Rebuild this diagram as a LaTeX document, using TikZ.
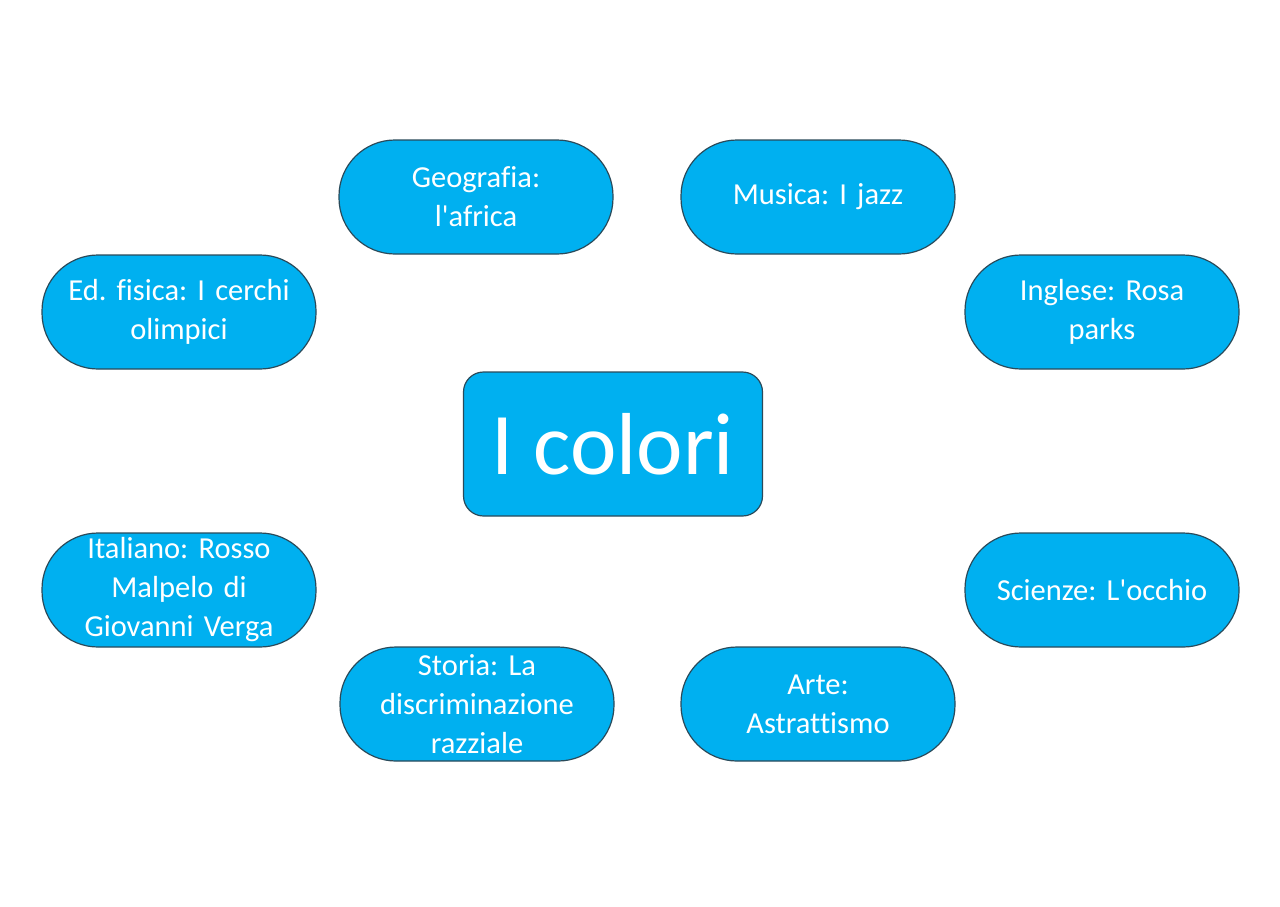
\documentclass[tikz,border=0pt]{standalone}
\usepackage{fontspec}
\setmainfont{Carlito}[Ligatures={NoCommon,TeXOff}]
\definecolor{boxblue}{HTML}{00B0F0}
\definecolor{boxline}{HTML}{2A4A5A}
\frenchspacing
\begin{document}
\begin{tikzpicture}[x=1pt,y=-1pt,
  pill/.style={draw=boxline, line width=1.2pt, fill=boxblue, text=white,
    rounded corners=56pt, minimum width=274pt, minimum height=114pt,
    align=center, inner sep=0pt, text width=250pt,
    font=\fontsize{30.5}{39}\selectfont},
  core/.style={draw=boxline, line width=1.2pt, fill=boxblue, text=white,
    rounded corners=20pt, minimum width=299pt, minimum height=144pt,
    inner sep=0pt, font=\fontsize{88}{100}\selectfont}]
\useasboundingbox (0,0) rectangle (1280,906);
\fill[white] (0,0) rectangle (1280,906);
\node[core] (center) at (613,444) {I colori};
\node[pill] (geo) at (476,197) {Geografia:\\l'africa};
\node[pill] (mus) at (818,197) {Musica: I jazz};
\node[pill] (edf) at (179,312) {Ed. fisica: I cerchi\\olimpici};
\node[pill] (ing) at (1102,312) {Inglese: Rosa\\parks};
\node[pill] (ita) at (179,590) {Italiano: Rosso\\Malpelo di\\Giovanni Verga};
\node[pill] (sci) at (1102,590) {Scienze: L'occhio};
\node[pill] (sto) at (477,704) {Storia: La\\discriminazione\\razziale};
\node[pill] (art) at (818,704) {Arte:\\Astrattismo};
\end{tikzpicture}
\end{document}
